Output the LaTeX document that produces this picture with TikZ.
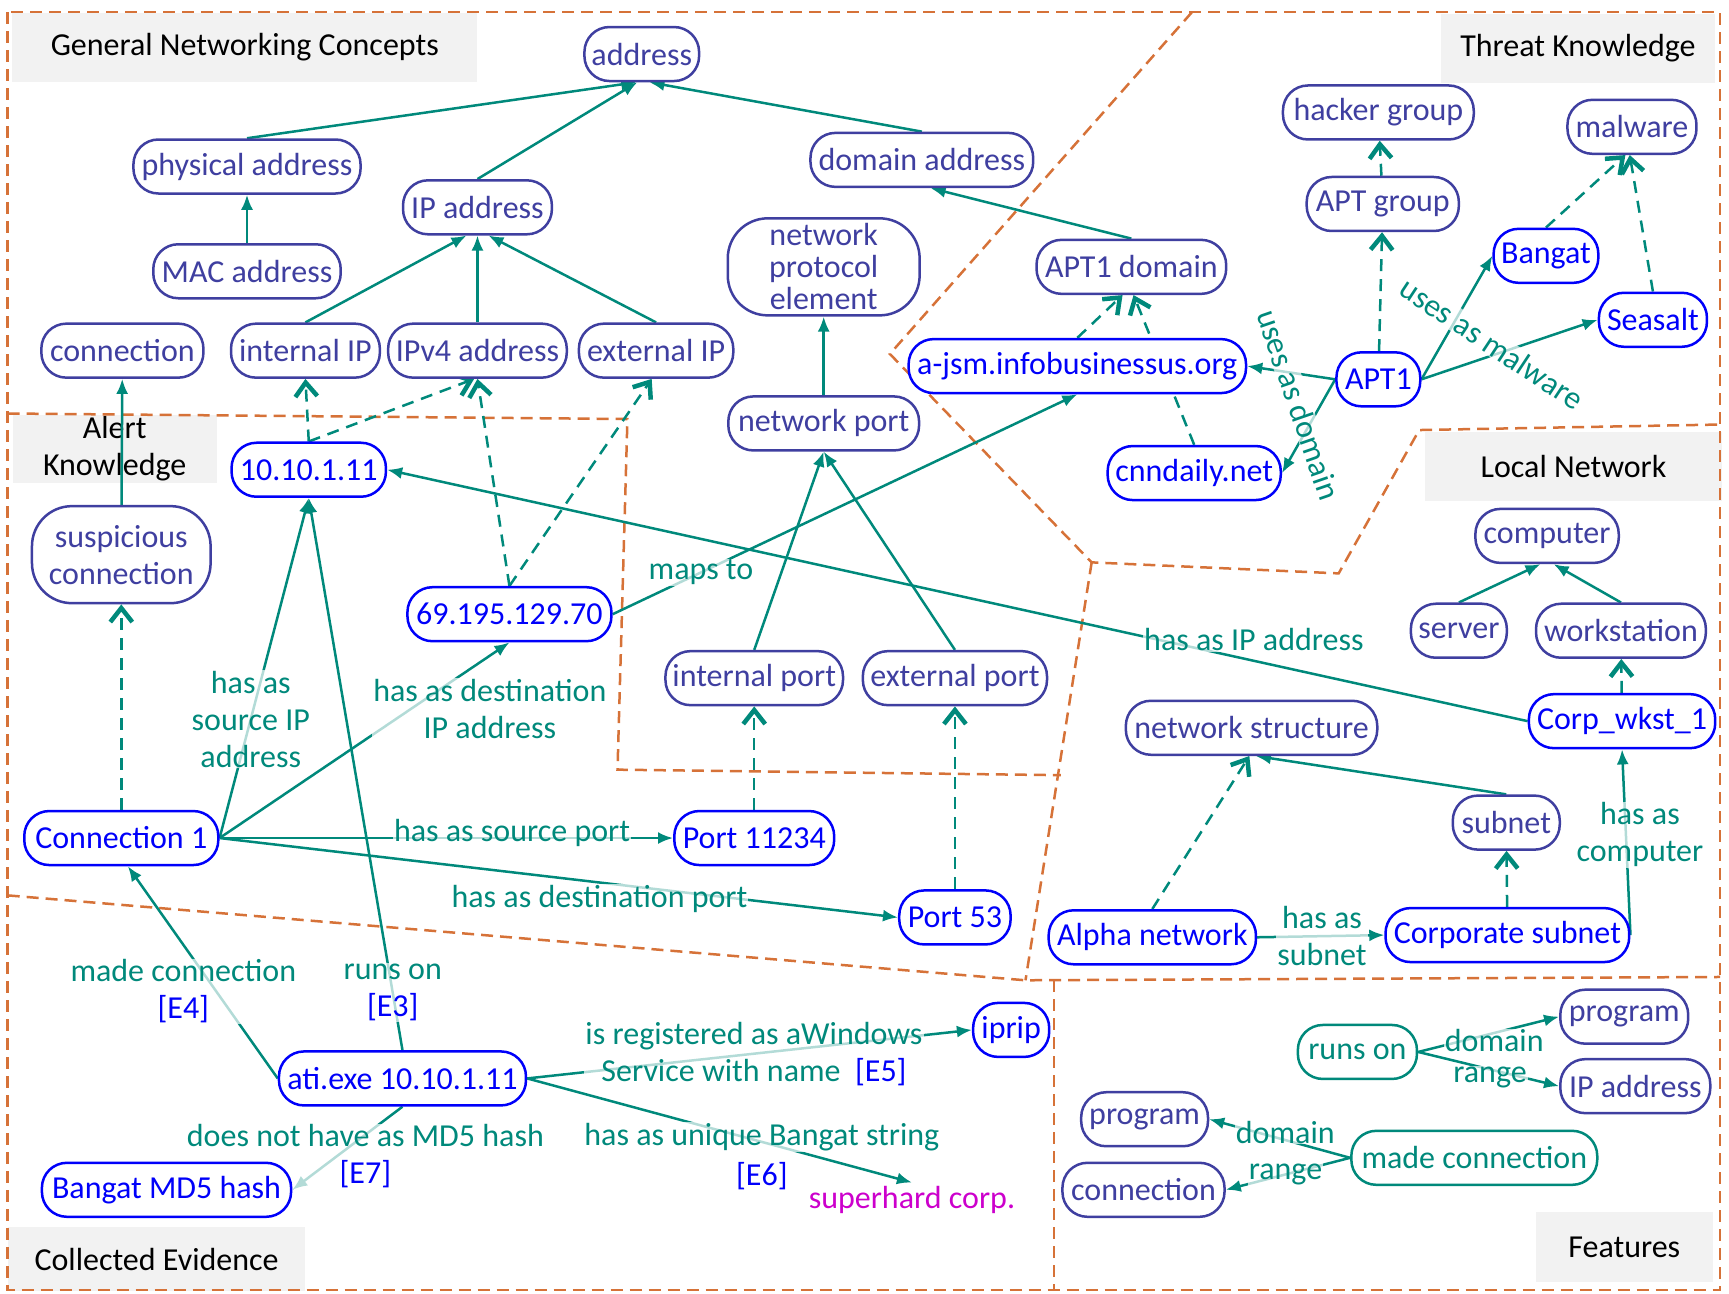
\documentclass[tikz,border=0pt]{standalone}
\usepackage{fontspec}
\setmainfont{Carlito}
\usepackage{xcolor}
\usepackage{tikz}
\usetikzlibrary{arrows.meta}

\definecolor{conceptcol}{RGB}{63,63,160}
\definecolor{instcol}{RGB}{0,0,250}
\definecolor{linkcol}{RGB}{0,137,123}
\definecolor{zonecol}{RGB}{214,114,56}
\definecolor{zonefill}{RGB}{242,242,242}
\definecolor{stringcol}{RGB}{204,0,204}

\newlength{\px}
\setlength{\px}{1.1027pt}
\newcommand{\evid}[1]{\textcolor{instcol}{#1}}

\pgfdeclarelayer{zones}
\pgfdeclarelayer{links}
\pgfsetlayers{zones,links,main}

\begin{document}
\begin{tikzpicture}[x=\px, y=-\px,
		txt/.style={font=\fontsize{32}{37}\selectfont},
		concept/.style={txt, draw=conceptcol, text=conceptcol, fill=white, line width=2.5pt, rounded corners=25pt, minimum height=54pt, inner xsep=5pt, inner ysep=1pt, align=center},
		instance/.style={concept, draw=instcol, text=instcol},
		feature/.style={concept, draw=linkcol, text=linkcol},
		zonebox/.style={txt, fill=zonefill, text=black, inner sep=0pt, align=center},
		zoneline/.style={draw=zonecol, line width=2.5pt, dash pattern=on 12pt off 7pt},
		link/.style={color=linkcol, line width=2.5pt, -{Latex[length=15pt,width=12pt]}},
		isa/.style={color=linkcol, line width=2.5pt, dash pattern=on 12pt off 8pt, -{Straight Barb[length=14pt,width=22pt,line width=4.5pt]}},
		lbl/.style={txt, fill=white, fill opacity=0.7, text opacity=1, text=linkcol, inner sep=1pt, align=center},
		evlbl/.style={txt, text=instcol, inner sep=1pt}]
				\useasboundingbox (0,0) rectangle (1568,1173);

				\begin{scope}[every node/.style={concept}]
				    \node[minimum width=104\px] (addr) at (582,49) {address};
				    \node[minimum width=206\px] (phys) at (224,151) {physical address};
				    \node[minimum width=170\px] (mac) at (224,246) {MAC address};
				    \node[minimum width=135\px] (ipaddr) at (433,188) {IP address};
				    \node[minimum width=202\px] (domaddr) at (836,145) {domain address};
				    \node[minimum width=147\px] (conn) at (111,318) {connection};
				    \node[minimum width=135\px] (intip) at (277,318) {internal IP};
				    \node[minimum width=162\px] (ipv4) at (433,318) {IPv4 address};
				    \node[minimum width=140\px] (extip) at (595,318) {external IP};
				    \node[minimum width=174\px, minimum height=88\px, rounded corners=40pt, font=\fontsize{32}{32}\selectfont] (npe) at (747,242) {network\\protocol\\element};
				    \node[minimum width=173\px] (nport) at (747,384) {network port};
				    \node[minimum width=172\px] (apt1dom) at (1026,242) {APT1 domain};
				    \node[minimum width=173\px] (hacker) at (1250,102) {hacker group};
				    \node[minimum width=138\px] (aptgrp) at (1254,185) {APT group};
				    \node[minimum width=117\px] (malware) at (1480,115) {malware};
				    \node[minimum width=162\px, minimum height=88\px, rounded corners=40pt] (susp) at (110,503) {suspicious\\connection};
				    \node[minimum width=161\px] (intport) at (684,615) {internal port};
				    \node[minimum width=167\px] (extport) at (866,615) {external port};
				    \node[minimum width=130\px] (computer) at (1403,486) {computer};
				    \node[minimum width=87\px] (server) at (1323,572) {server};
				    \node[minimum width=154\px] (wkst) at (1470,572) {workstation};
				    \node[minimum width=228\px] (netstruct) at (1135,660) {network structure};
				    \node[minimum width=97\px] (subnet) at (1366,746) {subnet};
				    \node[minimum width=116\px] (fprog) at (1473,922) {program};
				    \node[minimum width=136\px] (fip) at (1483,985) {IP address};
				    \node[minimum width=115\px] (fprogb) at (1038,1015) {program};
				    \node[minimum width=147\px] (fconn) at (1037,1079) {connection};
				\end{scope}

				\begin{scope}[every node/.style={instance}]
				    \node[minimum width=306\px] (ajsm) at (977,332) {a-jsm.infobusinessus.org};
				    \node[minimum width=76\px] (apt1) at (1250,344) {APT1};
				    \node[minimum width=95\px] (bangat) at (1402,232) {Bangat};
				    \node[minimum width=98\px] (seasalt) at (1499,290) {Seasalt};
				    \node[minimum width=157\px] (cnn) at (1083,429) {cnndaily.net};
				    \node[minimum width=140\px] (ipa) at (280,426) {10.10.1.11};
				    \node[minimum width=185\px] (ipb) at (462,557) {69.195.129.70};
				    \node[minimum width=176\px] (conna) at (110,760) {Connection 1};
				    \node[minimum width=145\px] (porta) at (684,760) {Port 11234};
				    \node[minimum width=101\px] (portb) at (866,832) {Port 53};
				    \node[minimum width=169\px] (corpws) at (1471,654) {Corp\_wkst\_1};
				    \node[minimum width=188\px] (alpha) at (1045,850) {Alpha network};
				    \node[minimum width=221\px] (corpsub) at (1367,848) {Corporate subnet};
				    \node[minimum width=224\px] (ati) at (365,978) {ati.exe 10.10.1.11};
				    \node[minimum width=69\px] (iprip) at (917,934) {iprip};
				    \node[minimum width=226\px] (md5) at (151,1079) {Bangat MD5 hash};
				\end{scope}
				\node[txt, text=stringcol] (superhard) at (827,1088) {superhard corp.};

				\begin{scope}[every node/.style={feature}]
				    \node[minimum width=108\px] (runson) at (1231,954) {runs on};
				    \node[minimum width=223\px] (madeconn) at (1337,1050) {made connection};
				\end{scope}

				\begin{pgfonlayer}{zones}
				    \node[zonebox, minimum width=422\px, minimum height=62\px] (zgen) at (222,43) {General Networking Concepts};
				    \node[zonebox, minimum width=249\px, minimum height=62\px] (zthreat) at (1431,44) {Threat Knowledge};
				    \node[zonebox, minimum width=185\px, minimum height=62\px] (zalert) at (104,407) {Alert\\Knowledge};
				    \node[zonebox, minimum width=270\px, minimum height=62\px] (zlocal) at (1427,423) {Local Network};
				    \node[zonebox, minimum width=270\px, minimum height=58\px] (zcoll) at (142,1142) {Collected Evidence};
				    \node[zonebox, minimum width=161\px, minimum height=63\px] (zfeat) at (1473,1131) {Features};
				    \draw[zoneline] (7,11) rectangle (1560,1170);
				    \draw[zoneline] (1081,11) -- (807,321) -- (990,510) -- (1214,520) -- (1287,390) -- (1560,385);
				    \draw[zoneline] (990,510) -- (930,889);
				    \draw[zoneline] (7,375) -- (569,380) -- (560,698) -- (962,703);
				    \draw[zoneline] (7,812) -- (930,889) -- (1560,886);
				    \draw[zoneline] (956,889) -- (956,1170);
				\end{pgfonlayer}

				\begin{pgfonlayer}{links}
				    \path [link] (phys.north) edge ([xshift=-5\px]addr.south);
				    \path [link] (ipaddr.north) edge ([xshift=-4\px]addr.south);
				    \path [link] (domaddr.north) edge ([xshift=7\px]addr.south);
				    \path [link] (mac) edge (phys);
				    \path [link] (intip.north) edge ([xshift=-10\px]ipaddr.south);
				    \path [link] (ipv4) edge (ipaddr);
				    \path [link] (extip.north) edge ([xshift=10\px]ipaddr.south);
				    \path [link] (nport) edge (npe);
				    \path [link] (intport.north) edge (nport.south);
				    \path [link] (extport.north) edge (nport.south);
				    \path [link] (apt1dom.north) edge ([xshift=8\px]domaddr.south);
				    \path [link] (susp) edge (conn);
				    \path [link] (server.north) edge ([xshift=-6\px]computer.south);
				    \path [link] (wkst.north) edge ([xshift=6\px]computer.south);
				    \path [link] (subnet.north) edge ([xshift=4\px]netstruct.south);

				    \path [isa] (ipa.north) edge (intip.south);
				    \path [isa] (ipa.north) edge ([xshift=-3\px]ipv4.south);
				    \path [isa] (ipb.north) edge (ipv4.south);
				    \path [isa] (ipb.north) edge ([xshift=-4\px]extip.south);
				    \path [isa] (conna) edge (susp);
				    \path [isa] (porta) edge (intport);
				    \path [isa] (portb) edge (extport);
				    \path [isa] (ajsm.north) edge ([xshift=-8\px]apt1dom.south);
				    \path [isa] (cnn.north) edge ([xshift=2\px]apt1dom.south);
				    \path [isa] (apt1) edge (aptgrp);
				    \path [isa] (aptgrp) edge (hacker);
				    \path [isa] (bangat.north) edge ([xshift=-6\px]malware.south);
				    \path [isa] (seasalt.north) edge ([xshift=-2\px]malware.south);
				    \path [isa] (corpws) edge (wkst);
				    \path [isa] (corpsub) edge (subnet);
				    \path [isa] (alpha.north) edge ([xshift=-2\px]netstruct.south);

				    \path [link] (apt1.west) edge (ajsm.east);
				    \path [link] (apt1.west) edge node[lbl, pos=0.27, xshift=-22pt, rotate=-71] {uses as domain} (cnn.east);
				    \path [link] (apt1.east) edge (bangat.west);
				    \path [link] (apt1.east) edge node[lbl, pos=0.4, yshift=12pt, rotate=-33.5] {uses as malware} (seasalt.west);
				    \path [link] (ipb.east) edge node[lbl, pos=0.19] {maps to} (ajsm.south);
				    \path [link] (corpws.west) edge node[lbl, pos=0.24, yshift=21pt] {has as IP address} (ipa.east);

				    \path [link] (conna.east) edge node[lbl, pos=0.35] {has as\\source IP\\address} (ipa.south);
				    \path [link] (conna.east) edge node[lbl, pos=0.66, xshift=79pt] {has as destination\\IP address} (ipb.south);
				    \path [link] (conna.east) edge node[lbl, pos=0.645, yshift=5pt] {has as source port} (porta.west);
				    \path [link] (conna.east) edge node[lbl, pos=0.56, yshift=-16pt] {has as destination port} (portb.west);

				    \path [link] (ati.north) edge node[lbl, pos=0.104] {runs on\\\evid{[E3]}} (ipa.south);
				    \path [link] (ati.west) edge node[lbl, pos=0.41, xshift=-33pt] {made connection\\\evid{[E4]}} ([xshift=6\px]conna.south);
				    \path [link] (ati.east) edge node[lbl, pos=0.51] {is registered as aWindows\\Service with name \ \evid{[E5]}} (iprip.west);
				    \path [link] (ati.east) edge node[lbl, pos=0.61, yshift=5pt] {has as unique Bangat string} node[evlbl, pos=0.61, yshift=-34pt] {[E6]} (superhard.north);
				    \path [link] (ati.south) edge node[lbl, pos=0.6, xshift=29pt] {does not have as MD5 hash\\\evid{[E7]}} (md5.east);

				    \path [link] (alpha.east) edge node[lbl, pos=0.51] {has as\\subnet} (corpsub.west);
				    \path [link] (corpsub.east) edge node[lbl, pos=0.54, xshift=14pt] {has as\\computer} (corpws.south);

				    \path [link] (runson.east) edge node[lbl, pos=0.54, yshift=-8pt] {domain} (fprog.west);
				    \path [link] (runson.east) edge node[lbl, pos=0.51, yshift=-8pt] {range} (fip.west);
				    \path [link] (madeconn.west) edge node[lbl, pos=0.46, yshift=8pt] {domain} (fprogb.east);
				    \path [link] (madeconn.west) edge node[lbl, pos=0.52] {range} (fconn.east);
				\end{pgfonlayer}
				\end{tikzpicture}
\end{document}
